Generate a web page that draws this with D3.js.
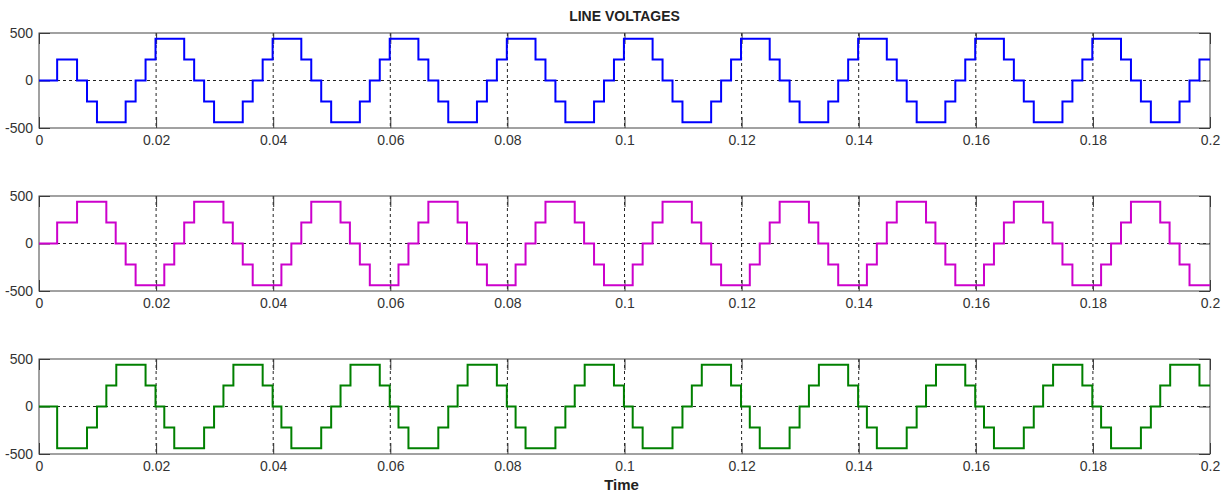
<!DOCTYPE html>
<html>
<head>
<meta charset="utf-8">
<script src="https://cdn.jsdelivr.net/npm/d3@7"></script>
<style>
  body { margin: 0; background: #fff; }
  text { font-family: "Liberation Sans", Arial, sans-serif; }
</style>
</head>
<body>
<div id="chart"></div>
<script>
// switching instants (s) and level after each instant (V)
var blueT = [0, 0.0031, 0.0065, 0.0082, 0.0099, 0.0148, 0.0165, 0.0182, 0.0199,
  0.0248, 0.0265, 0.0282, 0.0299, 0.0348, 0.0365, 0.0382, 0.0399,
  0.0448, 0.0465, 0.0482, 0.0499, 0.0548, 0.0565, 0.0582, 0.0599,
  0.0648, 0.0665, 0.0682, 0.0699, 0.0748, 0.0765, 0.0782, 0.0799,
  0.0848, 0.0865, 0.0882, 0.0899, 0.0948, 0.0965, 0.0982, 0.0999,
  0.1048, 0.1065, 0.1082, 0.1099, 0.1148, 0.1165, 0.1182, 0.1199,
  0.1248, 0.1265, 0.1282, 0.1299, 0.1348, 0.1365, 0.1382, 0.1399,
  0.1448, 0.1465, 0.1482, 0.1499, 0.1548, 0.1565, 0.1582, 0.1599,
  0.1648, 0.1665, 0.1682, 0.1699, 0.1748, 0.1765, 0.1782, 0.1799,
  0.1848, 0.1865, 0.1882, 0.1899, 0.1948, 0.1965, 0.1982, 0.2];
var blueV = [0, 220, 0, -220, -440, -220, 0, 220, 440,
  220, 0, -220, -440, -220, 0, 220, 440,
  220, 0, -220, -440, -220, 0, 220, 440,
  220, 0, -220, -440, -220, 0, 220, 440,
  220, 0, -220, -440, -220, 0, 220, 440,
  220, 0, -220, -440, -220, 0, 220, 440,
  220, 0, -220, -440, -220, 0, 220, 440,
  220, 0, -220, -440, -220, 0, 220, 440,
  220, 0, -220, -440, -220, 0, 220, 440,
  220, 0, -220, -440, -220, 0, 220, 220];

var magT = [0, 0.0031, 0.0065, 0.0115, 0.0131, 0.0148, 0.0165, 0.0214, 0.0231, 0.0248, 0.0265,
  0.0315, 0.0331, 0.0348, 0.0365, 0.0414, 0.0431, 0.0448, 0.0465,
  0.0515, 0.0531, 0.0548, 0.0565, 0.0614, 0.0631, 0.0648, 0.0665,
  0.0715, 0.0731, 0.0748, 0.0765, 0.0814, 0.0831, 0.0848, 0.0865,
  0.0915, 0.0931, 0.0948, 0.0965, 0.1014, 0.1031, 0.1048, 0.1065,
  0.1115, 0.1131, 0.1148, 0.1165, 0.1214, 0.1231, 0.1248, 0.1265,
  0.1315, 0.1331, 0.1348, 0.1365, 0.1414, 0.1431, 0.1448, 0.1465,
  0.1515, 0.1531, 0.1548, 0.1565, 0.1614, 0.1631, 0.1648, 0.1665,
  0.1715, 0.1731, 0.1748, 0.1765, 0.1814, 0.1831, 0.1848, 0.1865,
  0.1915, 0.1931, 0.1948, 0.1965, 0.2];
var magV = [0, 220, 440, 220, 0, -220, -440, -220, 0, 220, 440,
  220, 0, -220, -440, -220, 0, 220, 440,
  220, 0, -220, -440, -220, 0, 220, 440,
  220, 0, -220, -440, -220, 0, 220, 440,
  220, 0, -220, -440, -220, 0, 220, 440,
  220, 0, -220, -440, -220, 0, 220, 440,
  220, 0, -220, -440, -220, 0, 220, 440,
  220, 0, -220, -440, -220, 0, 220, 440,
  220, 0, -220, -440, -220, 0, 220, 440,
  220, 0, -220, -440, -440];

var grnT = [0, 0.0031, 0.0082, 0.0099, 0.0115, 0.0132, 0.0182, 0.0199, 0.0214, 0.0231,
  0.0282, 0.0299, 0.0315, 0.0332, 0.0382, 0.0399, 0.0414, 0.0431,
  0.0482, 0.0499, 0.0515, 0.0532, 0.0582, 0.0599, 0.0614, 0.0631,
  0.0682, 0.0699, 0.0715, 0.0732, 0.0782, 0.0799, 0.0814, 0.0831,
  0.0882, 0.0899, 0.0915, 0.0932, 0.0982, 0.0999, 0.1014, 0.1031,
  0.1082, 0.1099, 0.1115, 0.1132, 0.1182, 0.1199, 0.1214, 0.1231,
  0.1282, 0.1299, 0.1315, 0.1332, 0.1382, 0.1399, 0.1414, 0.1431,
  0.1482, 0.1499, 0.1515, 0.1532, 0.1582, 0.1599, 0.1614, 0.1631,
  0.1682, 0.1699, 0.1715, 0.1732, 0.1782, 0.1799, 0.1814, 0.1831,
  0.1882, 0.1899, 0.1915, 0.1932, 0.1982, 0.2];
var grnV = [0, -440, -220, 0, 220, 440, 220, 0, -220, -440,
  -220, 0, 220, 440, 220, 0, -220, -440,
  -220, 0, 220, 440, 220, 0, -220, -440,
  -220, 0, 220, 440, 220, 0, -220, -440,
  -220, 0, 220, 440, 220, 0, -220, -440,
  -220, 0, 220, 440, 220, 0, -220, -440,
  -220, 0, 220, 440, 220, 0, -220, -440,
  -220, 0, 220, 440, 220, 0, -220, -440,
  -220, 0, 220, 440, 220, 0, -220, -440,
  -220, 0, 220, 440, 220, 220];

var xTicks = [0, 0.02, 0.04, 0.06, 0.08, 0.1, 0.12, 0.14, 0.16, 0.18, 0.2];
var xTickLabels = ["0", "0.02", "0.04", "0.06", "0.08", "0.1", "0.12", "0.14", "0.16", "0.18", "0.2"];
var yTicks = [-500, 0, 500];
var yTickLabels = ["-500", "0", "500"];

var series = [
  {t: blueT, v: blueV, color: "#0000ff"},
  {t: magT, v: magV, color: "#cc00cc"},
  {t: grnT, v: grnV, color: "#008000"}
];

var W = 1227, H = 495;
var left = 39, right = 1210;
var panelTop = [33, 196, 359], panelH = 95;

var svg = d3.select("#chart").append("svg")
  .attr("width", W).attr("height", H);

var x = d3.scaleLinear().domain([0, 0.2]).range([left, right]);

svg.append("text")
  .attr("x", (left + right) / 2).attr("y", 21)
  .attr("text-anchor", "middle")
  .style("font-size", "14px").style("font-weight", "bold").style("fill", "#222")
  .text("LINE VOLTAGES");

series.forEach(function (s, i) {
  var top = panelTop[i], bot = top + panelH;
  var y = d3.scaleLinear().domain([-500, 500]).range([bot, top]);
  var g = svg.append("g");

  g.append("clipPath").attr("id", "clip" + i)
    .append("rect").attr("x", left).attr("y", top)
    .attr("width", right - left).attr("height", panelH);

  // dotted grid
  g.append("g").selectAll("line").data(xTicks.slice(1, -1)).enter().append("line")
    .attr("x1", d => x(d)).attr("x2", d => x(d))
    .attr("y1", top).attr("y2", bot)
    .attr("stroke", "#222").attr("stroke-width", 1)
    .attr("stroke-dasharray", "3,3");
  g.append("line")
    .attr("x1", left).attr("x2", right)
    .attr("y1", y(0)).attr("y2", y(0))
    .attr("stroke", "#222").attr("stroke-width", 1)
    .attr("stroke-dasharray", "3,3");

  // axes with inward ticks
  var xb = g.append("g").attr("transform", "translate(0," + bot + ")")
    .call(d3.axisBottom(x).tickValues(xTicks)
      .tickFormat((d, k) => xTickLabels[k])
      .tickSizeInner(-11).tickSizeOuter(0).tickPadding(7));
  var xt = g.append("g").attr("transform", "translate(0," + top + ")")
    .call(d3.axisTop(x).tickValues(xTicks).tickFormat("")
      .tickSizeInner(-11).tickSizeOuter(0));
  var yl = g.append("g").attr("transform", "translate(" + left + ",0)")
    .call(d3.axisLeft(y).tickValues(yTicks)
      .tickFormat((d, k) => yTickLabels[k])
      .tickSizeInner(-11).tickSizeOuter(0).tickPadding(6));
  var yr = g.append("g").attr("transform", "translate(" + right + ",0)")
    .call(d3.axisRight(y).tickValues(yTicks).tickFormat("")
      .tickSizeInner(-11).tickSizeOuter(0));
  [xb, xt, yl, yr].forEach(function (a) {
    a.select(".domain").remove();
    a.selectAll(".tick line").attr("stroke", "#333");
    a.selectAll("text").style("font-size", "14px").style("fill", "#333")
      .style("font-family", "'Liberation Sans', Arial, sans-serif");
  });

  g.append("rect")
    .attr("x", left).attr("y", top)
    .attr("width", right - left).attr("height", panelH)
    .attr("fill", "none").attr("stroke", "#444").attr("stroke-width", 1);

  var pts = s.t.map((t, k) => [t, s.v[k]]);
  g.append("path")
    .datum(pts)
    .attr("clip-path", "url(#clip" + i + ")")
    .attr("fill", "none")
    .attr("stroke", s.color)
    .attr("stroke-width", 2)
    .attr("d", d3.line().curve(d3.curveStepAfter)
      .x(d => x(d[0])).y(d => y(d[1])));
});

svg.append("text")
  .attr("x", (left + right) / 2 - 3).attr("y", 490)
  .attr("text-anchor", "middle")
  .style("font-size", "15px").style("font-weight", "bold").style("fill", "#222")
  .text("Time");
</script>
</body>
</html>
